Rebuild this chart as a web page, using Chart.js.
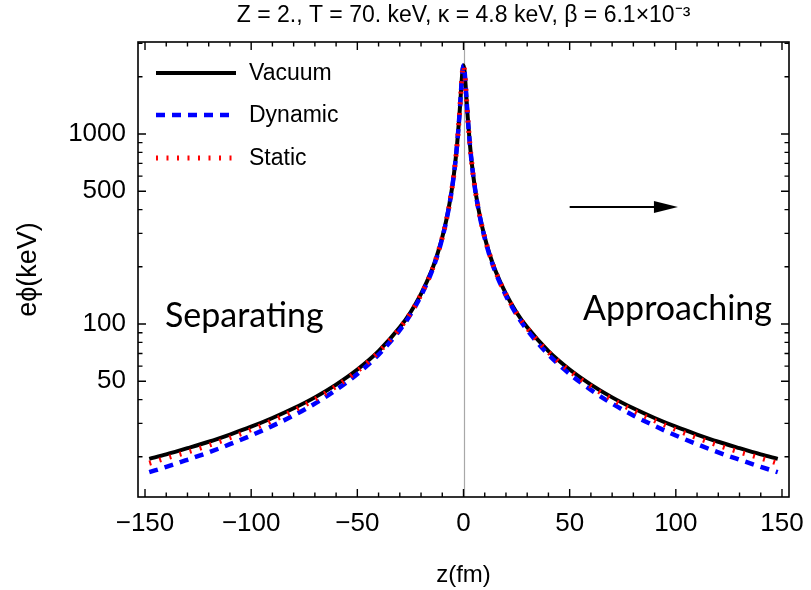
<!DOCTYPE html>
<html><head><meta charset="utf-8">
<script src="https://cdn.jsdelivr.net/npm/chart.js@4.4.1/dist/chart.umd.min.js"></script>
<style>html,body{margin:0;padding:0;background:#fff;}</style>
</head><body>
<canvas id="c" width="811" height="590"></canvas>
<script>
// ---- data ----
const zValues = [-148,-140,-130,-120,-110,-100,-90,-80,-70,-60,-50,-40,-30,-25,-20,-15,-12,-10,-8,-6,-5,-4,-3,-2,-1.5,-1,-0.5,0,0.5,1,1.5,2,3,4,5,6,8,10,12,15,20,25,30,40,50,60,70,80,90,100,110,120,130,140,148];
const vacuum = [19.5,20.6,22.2,24.0,26.2,28.8,32.0,36.0,41.1,48.0,57.6,72.0,96.0,115,144,191,239,286,356,470,559,687,886,1221,1475,1800,2141,2300,2141,1800,1475,1221,886,687,559,470,356,286,239,191,144,115,96.0,72.0,57.6,48.0,41.1,36.0,32.0,28.8,26.2,24.0,22.2,20.6,19.5];
const dynamicVals = [16.6,17.7,19.3,21.1,23.3,25.9,29.1,33.0,38.1,45.0,54.6,69.0,92.9,112,141,188,235,283,353,467,556,684,883,1218,1472,1797,2139,2298,2139,1797,1472,1218,883,684,556,467,353,283,235,188,141,112,92.9,69.0,54.6,45.0,38.1,33.0,29.1,25.9,23.3,21.1,19.3,17.7,16.6];
const staticVals = [18.5,19.7,21.2,23.0,25.2,27.8,31.0,35.0,40.1,47.0,56.6,71.1,95.0,114,143,190,238,285,355,469,558,686,885,1220,1474,1799,2140,2299,2140,1799,1474,1220,885,686,558,469,355,285,238,190,143,114,95.0,71.1,56.6,47.0,40.1,35.0,31.0,27.8,25.2,23.0,21.2,19.7,18.5];
const xTickValues = [-150,-100,-50,0,50,100,150];
const xMinorValues = [-140,-130,-120,-110,-90,-80,-70,-60,-40,-30,-20,-10,10,20,30,40,60,70,80,90,110,120,130,140];
const yTickValues = [50,100,500,1000];
const yMinorValues = [20,30,40,60,70,80,90,200,300,400,600,700,800,900,2000,3000];
const seriesLabels = ['Vacuum','Dynamic','Static'];
const titleText = 'Z = 2., T = 70. keV, \u03BA = 4.8 keV, \u03B2 = 6.1\u00D710\u207B\u00B3';
const leftNote = 'Separating';
const rightNote = 'Approaching';
const arrowFrom = {x: 50, y: 413};
const arrowTo = {x: 101, y: 413};

const toXY = arr => arr.map((v,i)=>({x:zValues[i], y:v}));
const SANS = '"Liberation Sans", Arial, sans-serif';

const decorPlugin = {
  id:'decor',
  beforeDatasetsDraw(chart){
    const {ctx, chartArea:a, scales:{x}} = chart;
    const px = Math.round(x.getPixelForValue(0))+0.5;
    ctx.save();
    ctx.strokeStyle='#a8a8a8'; ctx.lineWidth=1.2;
    ctx.beginPath(); ctx.moveTo(px,a.top); ctx.lineTo(px,a.bottom); ctx.stroke();
    ctx.restore();
  },
  afterDatasetsDraw(chart){
    const {ctx, chartArea:a, scales:{x,y}} = chart;
    ctx.save();
    ctx.strokeStyle='#000'; ctx.lineWidth=1.6;
    ctx.strokeRect(a.left,a.top,a.right-a.left,a.bottom-a.top);
    const tick=(p,len,vertical)=>{
      ctx.beginPath();
      if(vertical){ ctx.moveTo(p,a.bottom); ctx.lineTo(p,a.bottom-len); ctx.moveTo(p,a.top); ctx.lineTo(p,a.top+len); }
      else { ctx.moveTo(a.left,p); ctx.lineTo(a.left+len,p); ctx.moveTo(a.right,p); ctx.lineTo(a.right-len,p); }
      ctx.stroke();
    };
    ctx.lineWidth=1.4;
    xTickValues.forEach(v=>tick(x.getPixelForValue(v),8,true));
    xMinorValues.forEach(v=>tick(x.getPixelForValue(v),4.5,true));
    yTickValues.forEach(v=>tick(y.getPixelForValue(v),8,false));
    yMinorValues.forEach(v=>{const p=y.getPixelForValue(v); if(p>a.top&&p<a.bottom) tick(p,4.5,false);});
    // legend
    const ds = chart.data.datasets;
    const ly=[73,115,158];
    ds.forEach((d,i)=>{
      ctx.save();
      ctx.strokeStyle=d.borderColor; ctx.lineWidth=d.borderWidth;
      ctx.setLineDash(d.borderDash||[]);
      ctx.lineCap='butt';
      ctx.beginPath(); ctx.moveTo(156,ly[i]); ctx.lineTo(236,ly[i]); ctx.stroke();
      ctx.restore();
      ctx.fillStyle='#000'; ctx.font='23px '+SANS;
      ctx.textBaseline='middle'; ctx.textAlign='left';
      ctx.fillText(d.label,249,ly[i]+1);
    });
    // notes
    ctx.fillStyle='#000';
    ctx.font='34px Lato, "Open Sans", sans-serif';
    ctx.textBaseline='middle';
    ctx.textAlign='left'; ctx.fillText(leftNote,165,316);
    ctx.textAlign='right'; ctx.fillText(rightNote,772,309);
    // arrow
    const x1=x.getPixelForValue(arrowFrom.x), y1=y.getPixelForValue(arrowFrom.y);
    const x2=x.getPixelForValue(arrowTo.x), y2=y.getPixelForValue(arrowTo.y);
    ctx.strokeStyle='#000'; ctx.lineWidth=2;
    ctx.beginPath(); ctx.moveTo(x1,y1); ctx.lineTo(x2-20,y2); ctx.stroke();
    ctx.beginPath(); ctx.moveTo(x2,y2); ctx.lineTo(x2-24,y2-6); ctx.lineTo(x2-24,y2+6); ctx.closePath(); ctx.fill();
    ctx.restore();
  }
};

new Chart(document.getElementById('c'),{
  type:'line',
  data:{datasets:[
    {label:seriesLabels[0], data:toXY(vacuum), borderColor:'#000000', borderWidth:4, order:3},
    {label:seriesLabels[1], data:toXY(dynamicVals), borderColor:'#0000ff', borderWidth:4.5, borderDash:[9,7], order:2},
    {label:seriesLabels[2], data:toXY(staticVals), borderColor:'#ff0000', borderWidth:5, borderDash:[2,8.5], order:1}
  ]},
  options:{
    responsive:false, animation:false,
    layout:{padding:{left:0,right:22,top:0,bottom:0}},
    elements:{point:{radius:0}, line:{cubicInterpolationMode:'monotone', fill:false}},
    plugins:{
      legend:{display:false}, tooltip:{enabled:false},
      title:{display:true, fullSize:false, text:titleText, color:'#000',
        font:{family:SANS, size:23, weight:'normal'},
        padding:{top:2,bottom:12.4}}
    },
    scales:{
      x:{type:'linear', min:-153.3, max:153.3,
        afterBuildTicks(s){ s.ticks = xTickValues.map(v=>({value:v})); },
        afterFit(s){ s.height = 93; },
        grid:{display:false}, border:{display:false},
        ticks:{color:'#000', padding:3, maxRotation:0, autoSkip:false,
          font:{family:SANS, size:26},
          callback:v=> v<0 ? '\u2212'+Math.abs(v) : String(v)},
        title:{display:true, text:'z(fm)', color:'#000',
          font:{family:SANS, size:24}, padding:{top:0,bottom:0}}
      },
      y:{type:'logarithmic', min:12.29, max:3048,
        afterBuildTicks(s){ s.ticks = yTickValues.map(v=>({value:v})); },
        afterFit(s){ s.width = 138; },
        grid:{display:false}, border:{display:false},
        ticks:{color:'#000', padding:4, autoSkip:false,
          font:{family:SANS, size:26},
          callback:v=>String(v)},
        title:{display:true, text:'e\u03D5(keV)', color:'#000',
          font:{family:SANS, size:27}, padding:{top:12,bottom:0}}
      }
    }
  },
  plugins:[decorPlugin]
});
</script>
</body></html>
